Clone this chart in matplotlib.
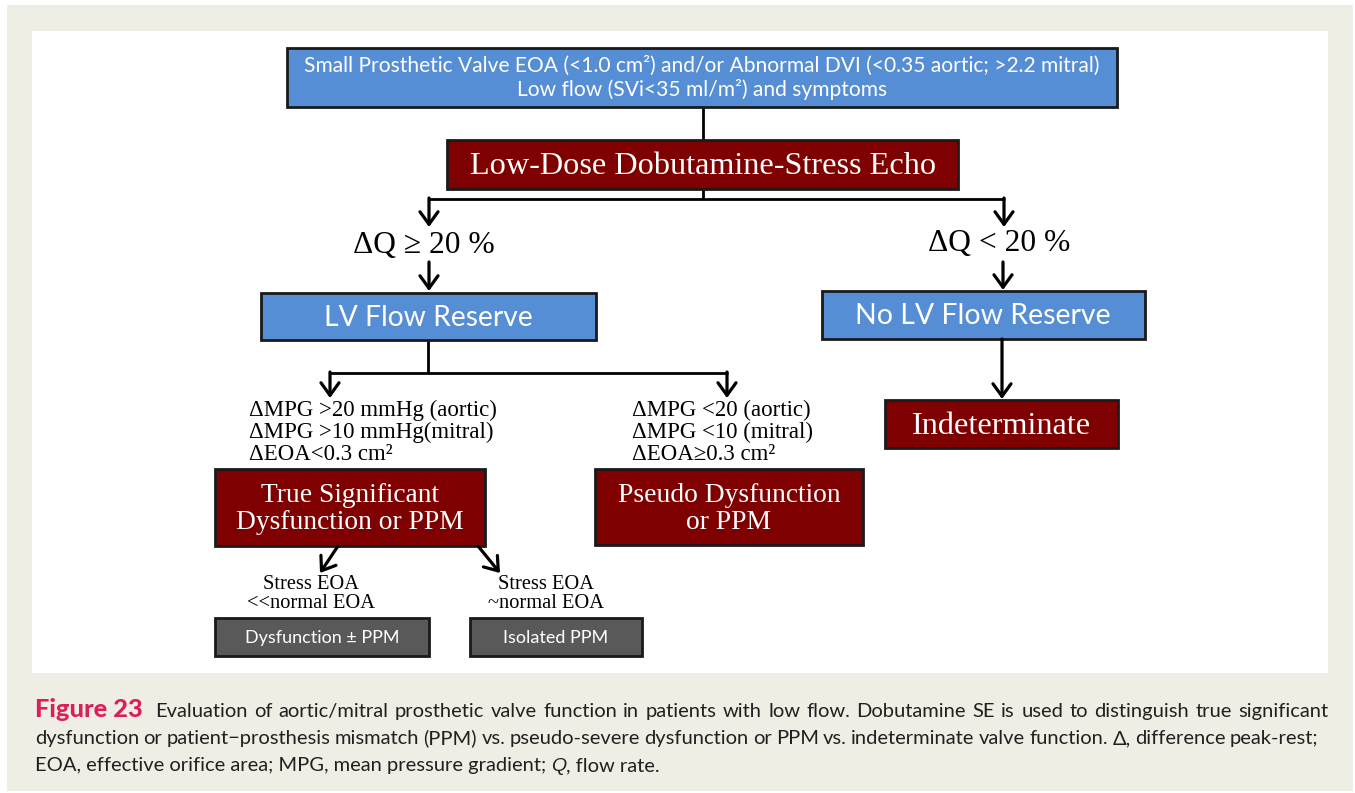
import matplotlib
matplotlib.use("Agg")
import matplotlib.pyplot as plt
from matplotlib.patches import Rectangle, FancyArrowPatch

# ---------------- content ----------------
top_lines = ["Small Prosthetic Valve EOA (<1.0 cm\u00b2) and/or Abnormal DVI (<0.35 aortic; >2.2 mitral)",
             "Low flow (SVi<35 ml/m\u00b2) and symptoms"]
stress_label = "Low-Dose Dobutamine-Stress Echo"
dq_labels = ["\u0394Q \u2265 20 %", "\u0394Q < 20 %"]
reserve_labels = ["LV Flow Reserve", "No LV Flow Reserve"]
indet_label = "Indeterminate"
crit_left = ["\u0394MPG >20 mmHg (aortic)", "\u0394MPG >10 mmHg(mitral)", "\u0394EOA<0.3 cm\u00b2"]
crit_right = ["\u0394MPG <20 (aortic)", "\u0394MPG <10 (mitral)", "\u0394EOA\u22650.3 cm\u00b2"]
outcome_labels = ["True Significant\nDysfunction or PPM", "Pseudo Dysfunction\nor PPM"]
stress_eoa = ["Stress EOA\n<<normal EOA", "Stress EOA\n~normal EOA"]
final_labels = ["Dysfunction \u00b1 PPM", "Isolated PPM"]
cap_title = "Figure 23"
cap_line1 = "Evaluation of aortic/mitral prosthetic valve function in patients with low flow. Dobutamine SE is used to distinguish true significant"
cap_line2 = "dysfunction or patient\u2212prosthesis mismatch (PPM) vs. pseudo-severe dysfunction or PPM vs. indeterminate valve function. \u0394, difference peak-rest;"
cap_line3a = "EOA, effective orifice area; MPG, mean pressure gradient; "
cap_line3b = "Q"
cap_line3c = ", flow rate."

# ---------------- style ----------------
BEIGE = "#EFEEE4"
BLUE = "#558ED5"
DRED = "#7F0000"
GRAY = "#595959"
PINK = "#DC1F56"
SANS = "Lato"
SERIF = "Liberation Serif"

W, H = 1355, 793
fig = plt.figure(figsize=(W / 100, H / 100), dpi=100, facecolor="white")
ax = fig.add_axes([0, 0, 1, 1])
ax.set_xlim(0, W)
ax.set_ylim(H, 0)
ax.axis("off")

ax.add_patch(Rectangle((7, 5), 1346, 786, facecolor=BEIGE, edgecolor="none", zorder=0))
ax.add_patch(Rectangle((32, 31), 1296, 642, facecolor="white", edgecolor="none", zorder=0))


def box(x0, y0, x1, y1, color, lw=2.0):
    ax.add_patch(Rectangle((x0, y0), x1 - x0, y1 - y0, facecolor=color,
                           edgecolor="#1a1a1a", lw=lw, zorder=2))


def line(xs, ys):
    ax.plot(xs, ys, color="black", lw=2.0, solid_capstyle="butt", zorder=1)


def arrow(x0, y0, x1, y1):
    ax.add_patch(FancyArrowPatch((x0, y0), (x1, y1),
                                 arrowstyle="->,head_length=9,head_width=6.5",
                                 color="black", lw=2.3, shrinkA=0, shrinkB=0,
                                 mutation_scale=1, zorder=3))


# top box
box(287, 48, 1117, 107, BLUE)
ax.text(702, 66, top_lines[0], ha="center", va="center", color="white",
        fontsize=15.1, family=SANS, zorder=4)
ax.text(702, 90, top_lines[1], ha="center", va="center", color="white",
        fontsize=15.1, family=SANS, zorder=4)
line([703, 703], [107, 140])

# stress echo box
box(447, 140, 958, 189, DRED)
ax.text(703, 167, stress_label, ha="center", va="center", color="white",
        fontsize=23.2, family=SERIF, zorder=4)
line([703, 703], [189, 199])
line([428, 1005], [199, 199])
arrow(429, 198, 429, 227)
arrow(1004, 198, 1004, 227)

# dQ labels
ax.text(424, 246, dq_labels[0], ha="center", va="center", fontsize=22.7, family=SERIF, zorder=4)
ax.text(999, 244, dq_labels[1], ha="center", va="center", fontsize=22.7, family=SERIF, zorder=4)
arrow(429, 262, 429, 291)
arrow(1003, 262, 1003, 290)

# reserve boxes
box(261, 293, 596, 340, BLUE)
ax.text(428, 318, reserve_labels[0], ha="center", va="center", color="white",
        fontsize=20.3, family=SANS, zorder=4)
box(822, 291, 1145, 339, BLUE)
ax.text(983, 316, reserve_labels[1], ha="center", va="center", color="white",
        fontsize=20.5, family=SANS, zorder=4)

# right branch
arrow(1002, 339, 1002, 399)
box(885, 400, 1118, 448, DRED)
ax.text(1001, 426, indet_label, ha="center", va="center", color="white",
        fontsize=23.2, family=SERIF, zorder=4)

# left branch split
line([428, 428], [340, 373])
line([329, 728], [373, 373])
arrow(330, 372, 330, 398)
arrow(727, 372, 727, 398)

for i, t in enumerate(crit_left):
    ax.text(249, 410 + 22 * i, t, ha="left", va="center", fontsize=16.5, family=SERIF, zorder=4)
for i, t in enumerate(crit_right):
    ax.text(632, 410 + 22 * i, t, ha="left", va="center", fontsize=16.5, family=SERIF, zorder=4)

# outcome boxes
box(215, 469, 485, 546, DRED)
ax.text(350, 509, outcome_labels[0], ha="center", va="center", color="white",
        fontsize=19.8, family=SERIF, linespacing=1.15, zorder=4)
box(595, 469, 863, 545, DRED)
ax.text(729, 509, outcome_labels[1], ha="center", va="center", color="white",
        fontsize=19.8, family=SERIF, linespacing=1.15, zorder=4)

# diagonal arrows
arrow(338, 546, 320, 573)
arrow(478, 546, 500, 573)

ax.text(311, 594, stress_eoa[0], ha="center", va="center", fontsize=14.7, family=SERIF,
        linespacing=1.05, zorder=4)
ax.text(546, 594, stress_eoa[1], ha="center", va="center", fontsize=14.7, family=SERIF,
        linespacing=1.05, zorder=4)

# final boxes
box(215, 618, 429, 656, GRAY)
ax.text(322, 638, final_labels[0], ha="center", va="center", color="white",
        fontsize=13, family=SANS, zorder=4)
box(470, 618, 642, 656, GRAY)
ax.text(556, 638, final_labels[1], ha="center", va="center", color="white",
        fontsize=13, family=SANS, zorder=4)

# caption
fig.canvas.draw()
r = fig.canvas.get_renderer()
CAPFS = 14.5
CAPCOL = "#231F20"


def put(x, y, txt, **kw):
    opts = dict(ha="left", va="baseline", fontsize=CAPFS, family=SANS, color=CAPCOL)
    opts.update(kw)
    t = ax.text(x, y, txt, **opts)
    return t.get_window_extent(renderer=r).width


def justify(x0, x1, y, txt):
    words = txt.split(" ")
    widths = []
    tmp = []
    for w in words:
        t = ax.text(0, 0, w, fontsize=CAPFS, family=SANS)
        widths.append(t.get_window_extent(renderer=r).width)
        tmp.append(t)
    for t in tmp:
        t.remove()
    gap = (x1 - x0 - sum(widths)) / (len(words) - 1)
    x = x0
    for w, wd in zip(words, widths):
        put(x, y, w)
        x += wd + gap


put(35, 717, cap_title, color=PINK, fontweight="black", fontsize=18.3)
justify(155, 1328, 717, cap_line1)
justify(35, 1318, 744, cap_line2)
x = 35
x += put(x, 771, cap_line3a)
x += put(x, 771, cap_line3b, family="Liberation Sans", style="italic", fontsize=CAPFS - 0.5)
put(x, 771, cap_line3c)

fig.savefig("out.png", dpi=100, facecolor="white")
